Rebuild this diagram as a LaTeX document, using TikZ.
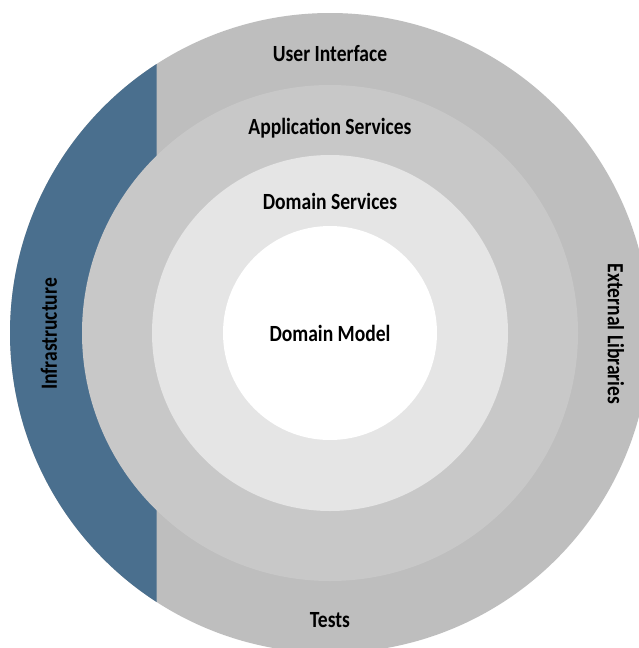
\documentclass[tikz,border=0pt]{standalone}
\usepackage{fontspec}
\usepackage{graphicx}
\setmainfont{Carlito}
\definecolor{outerring}{HTML}{BEBEBE}
\definecolor{appring}{HTML}{C8C8C8}
\definecolor{domring}{HTML}{E5E5E5}
\definecolor{infra}{HTML}{4A6F8E}
\newcommand{\tallt}[1]{\scalebox{1.03}[1.22]{#1}}
\begin{document}
\begin{tikzpicture}[x=1pt,y=-1pt,
  lbl/.style={font=\bfseries\fontsize{19}{22}\selectfont, text=black, inner sep=0pt}]
\useasboundingbox (0,0) rectangle (639,648);
\clip (0,0) rectangle (639,648);
\fill[white] (0,0) rectangle (639,648);
\fill[outerring] (330,333) circle[radius=320pt];
\begin{scope}
  \clip (0,0) rectangle (156.5,648);
  \fill[infra] (330,333) circle[radius=320pt];
\end{scope}
\fill[appring] (330,333) circle[radius=248pt];
\fill[domring] (330,333) circle[radius=178pt];
\fill[white] (330,333) circle[radius=107pt];
\node[lbl] (ui) at (330,54) {\tallt{User Interface}};
\node[lbl] (app) at (330,128) {\tallt{Application Services}};
\node[lbl] (ds) at (330,201) {\tallt{Domain Services}};
\node[lbl] (dm) at (330,333) {\tallt{Domain Model}};
\node[lbl] (tests) at (330,620) {\tallt{Tests}};
\node[lbl, rotate=-90] (ext) at (616,334) {\tallt{External Libraries}};
\node[lbl, rotate=90] (inf) at (49,334) {\tallt{Infrastructure}};
\end{tikzpicture}
\end{document}
